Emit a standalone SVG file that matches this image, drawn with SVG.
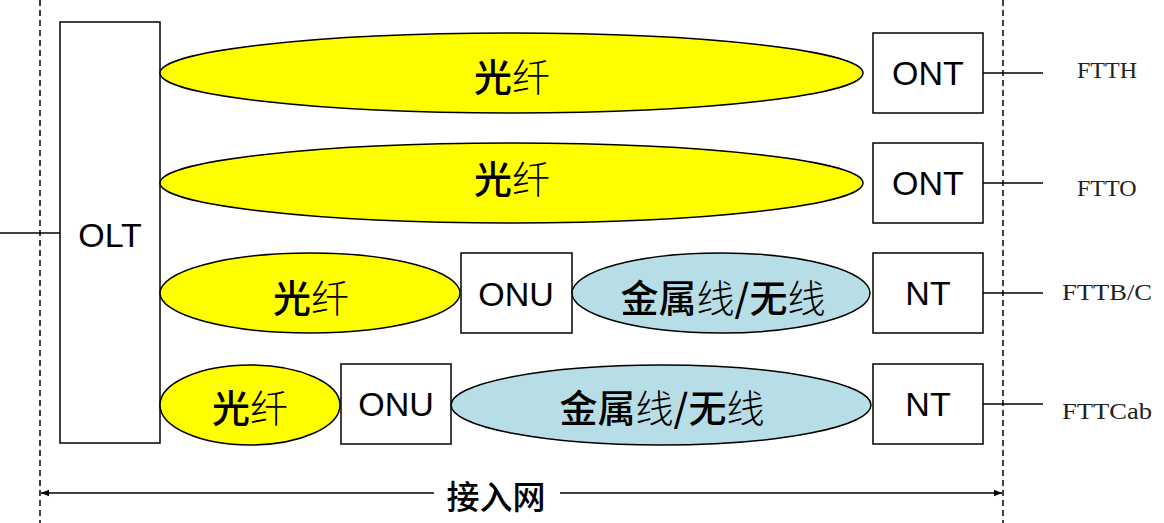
<svg xmlns="http://www.w3.org/2000/svg" width="1164" height="523" viewBox="0 0 1164 523">
<defs>
<style>
.box{fill:#fff;stroke:#000;stroke-width:1.5}
.fib{fill:#ffff00;stroke:#000;stroke-width:1.5}
.cu{fill:#b7dee6;stroke:#000;stroke-width:1.5}
.lbl{font-family:"Liberation Sans","Noto Sans CJK SC",sans-serif;font-size:34px;text-anchor:middle;dominant-baseline:central;fill:#000}
.cjk{font-family:"Noto Sans CJK SC",sans-serif;font-size:38px;font-weight:300;text-anchor:middle;dominant-baseline:central;fill:#000}
.b{font-weight:500}
.side{font-family:"Liberation Serif","Noto Sans CJK SC",serif;font-size:24px;text-anchor:start;dominant-baseline:central;fill:#222}
.dash{stroke:#000;stroke-width:1.5;stroke-dasharray:6,4;fill:none}
.ln{stroke:#000;stroke-width:1.5;fill:none}
</style>
<marker id="ah" viewBox="0 0 10 10" refX="10" refY="5" markerWidth="8" markerHeight="8" orient="auto-start-reverse" markerUnits="userSpaceOnUse">
<path d="M0,1 L10,5 L0,9 Z" fill="#000"/>
</marker>
</defs>
<rect width="1164" height="523" fill="#fff"/>
<g id="boundaries">
<line class="dash" x1="40" y1="0" x2="40" y2="523"/>
<line class="dash" x1="1003" y1="0" x2="1003" y2="523" stroke="#555"/>
</g>
<g id="connectors">
<line class="ln" x1="0" y1="233" x2="60" y2="233"/>
<line class="ln" x1="983" y1="73" x2="1043" y2="73"/>
<line class="ln" x1="983" y1="183" x2="1043" y2="183" stroke-width="1"/>
<line class="ln" x1="983" y1="293" x2="1043" y2="293"/>
<line class="ln" x1="983" y1="404" x2="1043" y2="404" stroke-width="1"/>
<line class="ln" x1="434" y1="493" x2="41" y2="493" marker-end="url(#ah)"/>
<line class="ln" x1="560" y1="493" x2="1002" y2="493" marker-end="url(#ah)"/>
</g>
<g id="olt"><rect class="box" x="60" y="22" width="100" height="421"/><text class="lbl" x="110" y="235">OLT</text></g>
<g id="fiber1"><ellipse class="fib" cx="511.5" cy="73" rx="351.5" ry="40"/><text class="cjk" x="512" y="74"><tspan class="b">光</tspan>纤</text></g>
<g id="ont1"><rect class="box" x="873" y="33" width="110" height="80"/><text class="lbl" x="928" y="73">ONT</text></g>
<g id="ftth"><text class="side" x="1077" y="70">FTTH</text></g>
<g id="fiber2"><ellipse class="fib" cx="511.5" cy="183" rx="351.5" ry="40"/><text class="cjk" x="512" y="176"><tspan class="b">光</tspan>纤</text></g>
<g id="ont2"><rect class="box" x="873" y="143" width="110" height="80"/><text class="lbl" x="928" y="183">ONT</text></g>
<g id="ftto"><text class="side" x="1077" y="188">FTTO</text></g>
<g id="fiber3"><ellipse class="fib" cx="310" cy="293" rx="150" ry="40"/><text class="cjk" x="311" y="295"><tspan class="b">光</tspan>纤</text></g>
<g id="onu3"><rect class="box" x="461" y="253" width="111" height="80"/><text class="lbl" x="516" y="294">ONU</text></g>
<g id="cu3"><ellipse class="cu" cx="721" cy="293" rx="149" ry="40"/><text class="cjk" x="723" y="295"><tspan class="b">金属</tspan>线<tspan class="b">/无</tspan>线</text></g>
<g id="nt3"><rect class="box" x="873" y="253" width="110" height="80"/><text class="lbl" x="928" y="293">NT</text></g>
<g id="fttb"><text class="side" x="1062" y="292" textLength="90" lengthAdjust="spacingAndGlyphs">FTTB/C</text></g>
<g id="fiber4"><ellipse class="fib" cx="250" cy="405" rx="90" ry="40"/><text class="cjk" x="250" y="405"><tspan class="b">光</tspan>纤</text></g>
<g id="onu4"><rect class="box" x="341" y="364" width="110" height="80"/><text class="lbl" x="396" y="404">ONU</text></g>
<g id="cu4"><ellipse class="cu" cx="661" cy="405" rx="210" ry="40"/><text class="cjk" x="662" y="405"><tspan class="b">金属</tspan>线<tspan class="b">/无</tspan>线</text></g>
<g id="nt4"><rect class="box" x="873" y="364" width="110" height="80"/><text class="lbl" x="928" y="404">NT</text></g>
<g id="fttcab"><text class="side" x="1062" y="411" textLength="90" lengthAdjust="spacingAndGlyphs">FTTCab</text></g>
<g id="access"><text class="cjk" x="496" y="495" style="font-size:33px;font-weight:500">接入网</text></g>
</svg>
